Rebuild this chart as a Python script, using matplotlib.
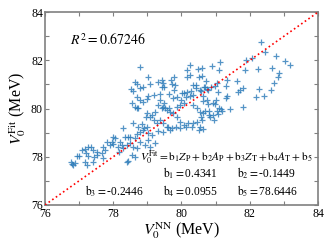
import matplotlib
matplotlib.use("Agg")
import matplotlib.pyplot as plt
from matplotlib.ticker import MultipleLocator

plt.rcParams['font.family'] = 'serif'
plt.rcParams['font.serif'] = ['Liberation Serif', 'DejaVu Serif']
plt.rcParams['mathtext.fontset'] = 'stix'

# V0 from the NN potential vs. fitted V0 (MeV)
v_nn = [82.33, 82.44, 81.89, 82.07, 82.77, 83.04, 83.18, 81.87, 82.25, 82.64,
        82.86, 82.83, 81.63, 82.72, 81.80, 81.72, 81.66, 82.26, 82.61, 82.41,
        82.17, 81.43, 81.79, 80.89, 81.12, 80.61, 81.11, 80.60, 80.71, 81.33,
        81.31, 80.99, 80.67, 80.75, 81.07, 80.55, 81.33, 81.29, 80.64, 80.92,
        80.78, 80.99, 81.11, 81.16, 80.69, 80.81, 80.58, 80.84, 81.04, 81.08,
        81.19, 80.96, 80.62, 80.55, 80.24, 80.16, 80.26, 80.48, 80.52, 80.17,
        79.79, 79.69, 79.72, 79.47, 79.02, 78.79, 79.50, 79.78, 79.63, 80.06,
        80.35, 80.43, 80.57, 80.33, 80.86, 81.03, 79.02, 79.86, 79.76, 78.69,
        79.37, 79.49, 79.44, 79.52, 78.63, 78.71, 78.52, 78.59, 78.79, 78.88,
        79.08, 79.32, 79.42, 79.44, 79.81, 80.01, 80.16, 80.25, 80.69, 80.79,
        80.64, 80.74, 79.18, 79.37, 79.32, 78.69, 78.79, 78.88, 78.98, 78.54,
        78.64, 78.74, 79.47, 79.57, 79.67, 79.76, 79.86, 79.96, 80.06, 80.35,
        80.45, 80.55, 80.64, 78.98, 79.08, 79.18, 79.28, 79.37, 79.47, 79.57,
        79.67, 79.86, 79.96, 80.06, 80.20, 80.35, 80.45, 80.60, 78.59, 78.74,
        78.88, 79.03, 78.49, 78.64, 78.79, 78.93, 79.08, 79.23, 79.21, 78.96,
        79.13, 78.84, 78.90, 78.98, 78.30, 78.35, 78.44, 78.69, 78.79, 78.00,
        78.05, 78.20, 78.25, 78.15, 78.30, 78.18, 77.96, 78.00, 77.91, 77.81,
        77.71, 77.76, 77.66, 78.40, 78.49, 78.59, 78.69, 79.03, 79.13, 78.54,
        78.64, 78.40, 77.17, 77.27, 77.35, 77.08, 77.42, 77.52, 77.53, 77.20,
        77.27, 77.71, 77.45, 77.40, 77.01, 77.17, 77.22, 76.93, 76.83, 76.78,
        76.88, 76.75, 78.44, 79.63, 79.99, 80.13, 80.28, 80.43, 80.82, 80.92,
        81.01, 79.61, 79.72, 79.84, 79.96, 80.13, 80.31, 80.52, 79.31, 79.46]
v_fit = [82.78, 82.36, 82.02, 82.10, 82.19, 81.98, 81.81, 81.61, 81.66, 81.68,
         81.49, 81.29, 81.15, 81.07, 80.85, 80.75, 80.67, 80.80, 80.79, 80.54,
         80.46, 79.99, 80.06, 81.77, 81.93, 81.70, 81.61, 81.36, 81.16, 81.18,
         80.95, 80.95, 80.89, 80.83, 80.70, 80.78, 80.54, 80.44, 80.33, 80.25,
         80.17, 80.19, 80.04, 79.99, 79.90, 79.75, 79.64, 79.64, 79.90, 79.78,
         79.89, 79.53, 79.16, 79.25, 81.81, 81.59, 81.40, 81.63, 81.29, 81.29,
         81.30, 81.19, 81.02, 81.08, 81.29, 81.73, 80.91, 80.78, 80.61, 80.66,
         80.98, 80.98, 80.73, 80.57, 80.91, 81.05, 80.53, 80.50, 80.43, 80.04,
         80.60, 80.25, 80.04, 80.02, 81.12, 81.02, 80.80, 80.73, 80.85, 80.89,
         81.02, 81.12, 81.19, 80.89, 80.98, 80.64, 80.70, 80.53, 80.91, 80.78,
         80.53, 80.36, 80.57, 80.36, 80.15, 80.50, 80.36, 80.29, 80.39, 80.22,
         80.08, 80.02, 80.08, 79.95, 79.87, 79.81, 80.08, 80.15, 80.22, 80.15,
         80.02, 79.87, 79.81, 79.81, 79.67, 79.53, 79.39, 79.53, 79.39, 79.25,
         79.12, 79.67, 79.46, 79.32, 79.39, 79.39, 79.46, 79.53, 79.39, 79.25,
         79.12, 78.98, 78.84, 78.77, 78.63, 78.49, 78.42, 78.56, 79.87, 79.67,
         79.74, 79.35, 79.19, 79.25, 79.21, 78.84, 78.84, 78.94, 79.02, 78.84,
         78.77, 78.63, 78.49, 78.42, 78.36, 78.21, 78.63, 78.52, 78.49, 78.63,
         78.42, 78.29, 78.15, 78.49, 78.56, 78.42, 78.36, 78.70, 78.91, 78.08,
         78.01, 77.80, 78.33, 78.40, 78.40, 78.29, 78.29, 78.21, 78.08, 78.15,
         78.05, 77.94, 78.01, 77.80, 78.05, 77.80, 77.66, 78.04, 77.66, 77.70,
         77.73, 77.80, 77.83, 80.02, 80.36, 80.50, 80.71, 80.85, 79.88, 79.74,
         80.36, 79.24, 79.20, 79.24, 79.20, 79.24, 79.24, 79.12, 79.07, 79.03]

lims = [76, 84]
r2 = "0.67246"
coef_labels = ["b_1", "b_2", "b_3", "b_4", "b_5"]
coef_values = ["0.4341", "-0.1449", "-0.2446", "0.0955", "78.6446"]

fig = plt.figure(figsize=(3.32, 2.49), dpi=100)
ax = fig.add_axes([0.1355, 0.177, 0.8223, 0.774])

ax.scatter(v_nn, v_fit, marker='+', s=16, linewidths=0.9,
           color='#2a7ab8', alpha=0.8, zorder=2)
ax.plot(lims, lims, color='red', linestyle=':', lw=1.2, zorder=3)

ax.set_xlim(lims)
ax.set_ylim(lims)
ax.xaxis.set_major_locator(MultipleLocator(2))
ax.yaxis.set_major_locator(MultipleLocator(2))
ax.xaxis.set_minor_locator(MultipleLocator(1))
ax.yaxis.set_minor_locator(MultipleLocator(1))
ax.tick_params(which='both', direction='in', top=True, right=True,
               length=3, width=0.8, color='#808080', labelsize=8.5)
ax.tick_params(axis='x', pad=2)
ax.tick_params(axis='y', pad=1.5)
for sp in ax.spines.values():
    sp.set_color('#808080')
    sp.set_linewidth(1.2)

ax.set_xlabel(r'$V_0^{\rm NN}$ (MeV)', fontsize=11.5, labelpad=0)
ax.set_ylabel(r'$V_0^{\rm Fit}$ (MeV)', fontsize=11.5, labelpad=2)

ax.text(76.73, 82.85, r'$R^2=%s$' % r2, fontsize=10, va='center')
ax.text(78.77, 77.97, r'$V_0^{\rm Fit}={\rm b}_1Z_{\rm P}+{\rm b}_2A_{\rm P}+{\rm b}_3Z_{\rm T}+{\rm b}_4A_{\rm T}+{\rm b}_5$',
        fontsize=8.2, va='center')

pos = [(79.47, 77.31), (81.63, 77.31), (77.17, 76.58), (79.47, 76.58), (81.63, 76.58)]
for (px, py), lab, val in zip(pos, coef_labels, coef_values):
    ax.text(px, py, r'${\rm %s}_%s=$' % (lab[0], lab[2]) + val, fontsize=8.3, va='center')

fig.savefig('out.png', dpi=100)
